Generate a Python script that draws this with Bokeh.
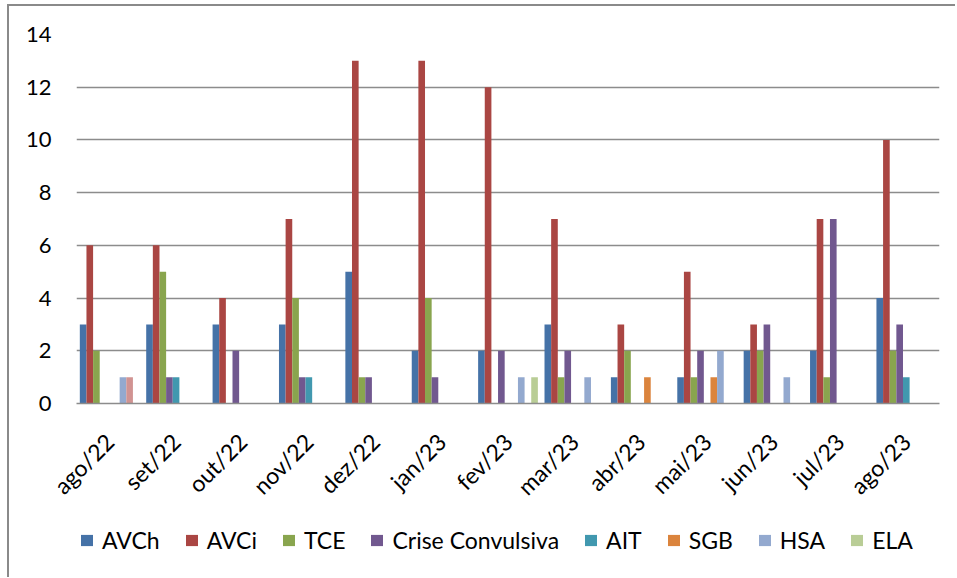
from math import pi
from bokeh.plotting import figure
from bokeh.layouts import column
from bokeh.models import ColumnDataSource, FactorRange, Range1d, Legend, LegendItem, FixedTicker
from bokeh.transform import dodge
from bokeh.embed import file_html
from bokeh.resources import INLINE

months = ["ago/22", "set/22", "out/22", "nov/22", "dez/22", "jan/23", "fev/23",
          "mar/23", "abr/23", "mai/23", "jun/23", "jul/23", "ago/23"]

AVCh = [3, 3, 3, 3, 5, 2, 2, 3, 1, 1, 2, 2, 4]
AVCi = [6, 6, 4, 7, 13, 13, 12, 7, 3, 5, 3, 7, 10]
TCE = [2, 5, 0, 4, 1, 4, 0, 1, 2, 1, 2, 1, 2]
Crise = [0, 1, 2, 1, 1, 1, 2, 2, 0, 2, 3, 7, 3]
AIT = [0, 1, 0, 1, 0, 0, 0, 0, 0, 0, 0, 0, 1]
SGB = [0, 0, 0, 0, 0, 0, 0, 0, 1, 1, 0, 0, 0]
HSA = [1, 0, 0, 0, 0, 0, 1, 1, 0, 2, 1, 0, 0]
Unnamed = [1, 0, 0, 0, 0, 0, 0, 0, 0, 0, 0, 0, 0]
ELA = [0, 0, 0, 0, 0, 0, 1, 0, 0, 0, 0, 0, 0]

series = [
    ("AVCh", AVCh, "#4572A7", True),
    ("AVCi", AVCi, "#AA4643", True),
    ("TCE", TCE, "#89A54E", True),
    ("Crise Convulsiva", Crise, "#71588F", True),
    ("AIT", AIT, "#4198AF", True),
    ("SGB", SGB, "#DB843D", True),
    ("HSA", HSA, "#93A9CF", True),
    ("", Unnamed, "#D19392", False),
    ("ELA", ELA, "#B9CD96", True),
]

y_ticks = [0, 2, 4, 6, 8, 10, 12, 14]

data = {"month": months}
for i, (name, vals, col, show) in enumerate(series):
    data["s%d" % i] = vals
src = ColumnDataSource(data)

FONT = "Lato"
W = 946
H_MAIN = 509
H_LEG = 62

p = figure(x_range=FactorRange(*months, range_padding=0), y_range=Range1d(0, 14),
           width=W, height=H_MAIN, output_backend="svg", toolbar_location=None,
           min_border_left=67, min_border_right=16, min_border_top=28, min_border_bottom=112)
p.outline_line_color = None
p.background_fill_color = "white"
p.border_fill_color = "white"

# legend-only companion figure (its bars lie outside its visible range)
q = figure(x_range=FactorRange(*months, range_padding=0), y_range=Range1d(100, 101),
           width=W, height=H_LEG, output_backend="svg", toolbar_location=None,
           x_axis_location=None, y_axis_location=None,
           min_border_left=0, min_border_right=0, min_border_top=0, min_border_bottom=0)
q.outline_line_color = None
q.xgrid.grid_line_color = None
q.ygrid.grid_line_color = None
q.background_fill_color = "white"
q.border_fill_color = "white"

items = []
bw = 0.1
for i, (name, vals, col, show) in enumerate(series):
    off = -0.4 + bw * i
    p.vbar(x=dodge("month", off, range=p.x_range), top="s%d" % i, width=bw,
           source=src, fill_color=col, line_color=None)
    r2 = q.vbar(x=dodge("month", off, range=q.x_range), top="s%d" % i, width=bw,
                source=src, fill_color=col, line_color=None)
    if show:
        items.append(LegendItem(label=name, renderers=[r2]))

p.xgrid.grid_line_color = None
p.ygrid.grid_line_color = "#8c8c8c"
p.ygrid.grid_line_width = 1.6
p.yaxis.ticker = FixedTicker(ticks=y_ticks)
p.yaxis.axis_line_color = None
p.yaxis.major_tick_line_color = None
p.yaxis.minor_tick_line_color = None
p.yaxis.major_label_standoff = 19
p.yaxis.major_label_text_font = FONT
p.yaxis.major_label_text_font_size = "22px"
p.yaxis.major_label_text_color = "#000000"

p.xaxis.axis_line_color = "#8c8c8c"
p.xaxis.axis_line_width = 1.6
p.xaxis.major_tick_line_color = None
p.xaxis.minor_tick_line_color = None
p.xaxis.major_label_orientation = pi / 4
p.xaxis.major_label_standoff = 28
p.xaxis.major_label_text_font = FONT
p.xaxis.major_label_text_font_size = "23px"
p.xaxis.major_label_text_color = "#000000"

legend = Legend(items=items, orientation="horizontal", location=(3, 23))
legend.border_line_color = None
legend.background_fill_alpha = 0
legend.padding = 0
legend.margin = 0
legend.spacing = 24
legend.label_standoff = 8
legend.glyph_width = 15
legend.glyph_height = 14
legend.label_text_font = FONT
legend.label_text_font_size = "23px"
legend.label_text_color = "#000000"
q.add_layout(legend)

layout = column(p, q, spacing=0,
                styles={"border-left": "2px solid #8a8a8a", "border-top": "2px solid #8a8a8a",
                        "margin-left": "7px", "margin-top": "4px"})

open("out.html", "w").write(file_html(layout, INLINE))
